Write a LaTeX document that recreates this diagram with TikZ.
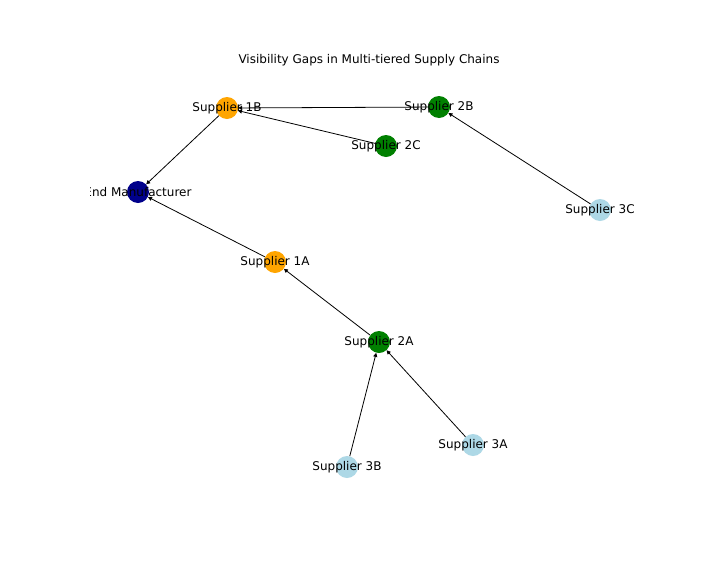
\documentclass[tikz,border=0pt]{standalone}
\usepackage{fontspec}
\setmainfont{DejaVu Sans}
\usetikzlibrary{arrows.meta}
\definecolor{emcol}{HTML}{00008B}
\definecolor{t1col}{HTML}{FFA500}
\definecolor{t2col}{HTML}{008000}
\definecolor{t3col}{HTML}{ADD8E6}
\tikzset{
  dot/.style={circle, minimum size=22pt, inner sep=0pt, draw=none},
  lab/.style={font=\fontsize{12pt}{14pt}\selectfont, inner sep=0pt, text=black},
  edge/.style={draw=black, line width=0.8pt, -{Triangle[length=4pt,width=4pt]}}
}
\begin{document}
\begin{tikzpicture}[x=1pt,y=-1pt]
\useasboundingbox (0,-1) rectangle (720,575);
\fill[white] (0,-1) rectangle (720,575);
\node[lab] (title) at (369,59) {Visibility Gaps in Multi-tiered Supply Chains};
% nodes
\node[dot, fill=emcol] (em) at (138,191) {};
\node[dot, fill=t1col] (s1b) at (227,107) {};
\node[dot, fill=t1col] (s1a) at (275,261) {};
\node[dot, fill=t2col] (s2b) at (439,106) {};
\node[dot, fill=t2col] (s2c) at (386,145) {};
\node[dot, fill=t2col] (s2a) at (379,341) {};
\node[dot, fill=t3col] (s3c) at (600,209) {};
\node[dot, fill=t3col] (s3a) at (473,444) {};
\node[dot, fill=t3col] (s3b) at (347,466) {};
% edges
\draw[edge] (s1b) -- (em);
\draw[edge] (s1a) -- (em);
\draw[edge] (s2b) -- (s1b);
\draw[edge] (s2c) -- (s1b);
\draw[edge] (s3c) -- (s2b);
\draw[edge] (s2a) -- (s1a);
\draw[edge] (s3b) -- (s2a);
\draw[edge] (s3a) -- (s2a);
% labels
\begin{scope}
\clip (90,69) rectangle (648,513);
\node[lab] (lem) at (em) {End Manufacturer};
\node[lab] (l1b) at (s1b) {Supplier 1B};
\node[lab] (l1a) at (s1a) {Supplier 1A};
\node[lab] (l2b) at (s2b) {Supplier 2B};
\node[lab] (l2c) at (s2c) {Supplier 2C};
\node[lab] (l2a) at (s2a) {Supplier 2A};
\node[lab] (l3c) at (s3c) {Supplier 3C};
\node[lab] (l3a) at (s3a) {Supplier 3A};
\node[lab] (l3b) at (s3b) {Supplier 3B};
\end{scope}
\end{tikzpicture}
\end{document}
